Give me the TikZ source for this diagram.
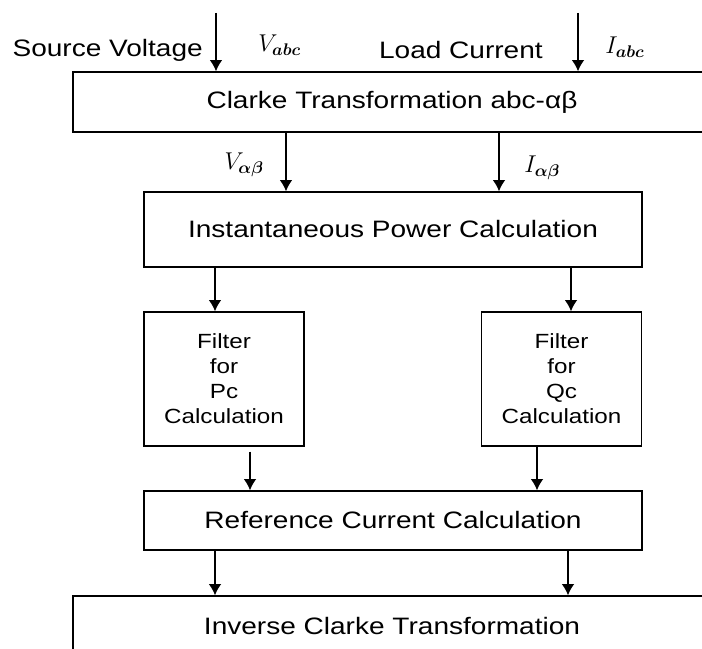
\documentclass[tikz,border=0pt]{standalone}
\usepackage{bm}
\usepackage{fontspec}
\setmainfont{Liberation Sans}[FakeStretch=1.18]
\usetikzlibrary{arrows.meta}
\tikzset{
  block/.style={draw, line width=1pt, inner sep=0pt, align=center,
    font=\fontsize{16.9}{20}\selectfont},
  filterbox/.style={block, minimum width=4cm, minimum height=3.35cm,
    font=\fontsize{14.6}{17.8}\selectfont},
  sig/.style={inner sep=0pt, font=\fontsize{16.9}{20}\selectfont},
  qty/.style={inner sep=0pt, font=\fontsize{18}{21}\selectfont},
  flow/.style={line width=0.9pt, -{Latex[length=8pt,width=9pt]}},
}

\begin{document}
\begin{tikzpicture}
        \useasboundingbox (0cm,0cm) rectangle (17.55cm,16.225cm);
        \clip (0cm,0cm) rectangle (17.55cm,16.225cm);

        \node[block, minimum width=15.95cm, minimum height=1.5cm] (clarke) at (9.8cm,13.675cm) {Clarke Transformation abc-αβ};
        \node[block, minimum width=12.45cm, minimum height=1.875cm] (power) at (9.825cm,10.4875cm) {Instantaneous Power Calculation};
        \node[filterbox] (filterp) at (5.6cm,6.75cm) {Filter\\for\\Pc\\Calculation};
        \node[filterbox] (filterq) at (14.0375cm,6.75cm) {Filter\\for\\Qc\\Calculation};
        \node[block, minimum width=12.45cm, minimum height=1.475cm] (refcur) at (9.825cm,3.2125cm) {Reference Current Calculation};
        \node[block, minimum width=15.95cm, minimum height=1.5cm] (invclarke) at (9.8cm,0.575cm) {Inverse Clarke Transformation};

        % inputs
        \node[sig, anchor=east] (srcv) at (5.075cm,14.975cm) {Source Voltage};
        \node[sig, anchor=east] (loadi) at (13.575cm,14.975cm) {Load Current};
        \node[qty, anchor=west] (vabc) at (6.45cm,15.1cm) {$V_{\bm{abc}}$};
        \node[qty, anchor=west] (iabc) at (15.125cm,15.05cm) {$I_{\bm{abc}}$};
        \coordinate (vin) at (5.4cm,15.9cm);
        \coordinate (iin) at (14.45cm,15.9cm);
        \draw[flow] (vin) -- (clarke.north -| vin);
        \draw[flow] (iin) -- (clarke.north -| iin);

        % alpha-beta quantities
        \node[qty, anchor=east] (valbe) at (6.6cm,12.1cm) {$V_{\bm{\alpha\beta}}$};
        \node[qty, anchor=west] (ialbe) at (13.1cm,12.025cm) {$I_{\bm{\alpha\beta}}$};
        \coordinate (va) at (7.15cm,0cm);
        \coordinate (ia) at (12.475cm,0cm);
        \draw[flow] (clarke.south -| va) -- (power.north -| va);
        \draw[flow] (clarke.south -| ia) -- (power.north -| ia);

        \coordinate (pa) at (5.375cm,0cm);
        \coordinate (qa) at (14.275cm,0cm);
        \draw[flow] (power.south -| pa) -- (filterp.north -| pa);
        \draw[flow] (power.south -| qa) -- (filterq.north -| qa);

        \coordinate (pb) at (6.25cm,0cm);
        \coordinate (qb) at (13.425cm,0cm);
        \draw[flow, shorten <=0.125cm] (filterp.south -| pb) -- (refcur.north -| pb);
        \draw[flow] (filterq.south -| qb) -- (refcur.north -| qb);

        \coordinate (pc) at (5.375cm,0cm);
        \coordinate (qc) at (14.2cm,0cm);
        \draw[flow] (refcur.south -| pc) -- (invclarke.north -| pc);
        \draw[flow] (refcur.south -| qc) -- (invclarke.north -| qc);
\end{tikzpicture}
\end{document}
